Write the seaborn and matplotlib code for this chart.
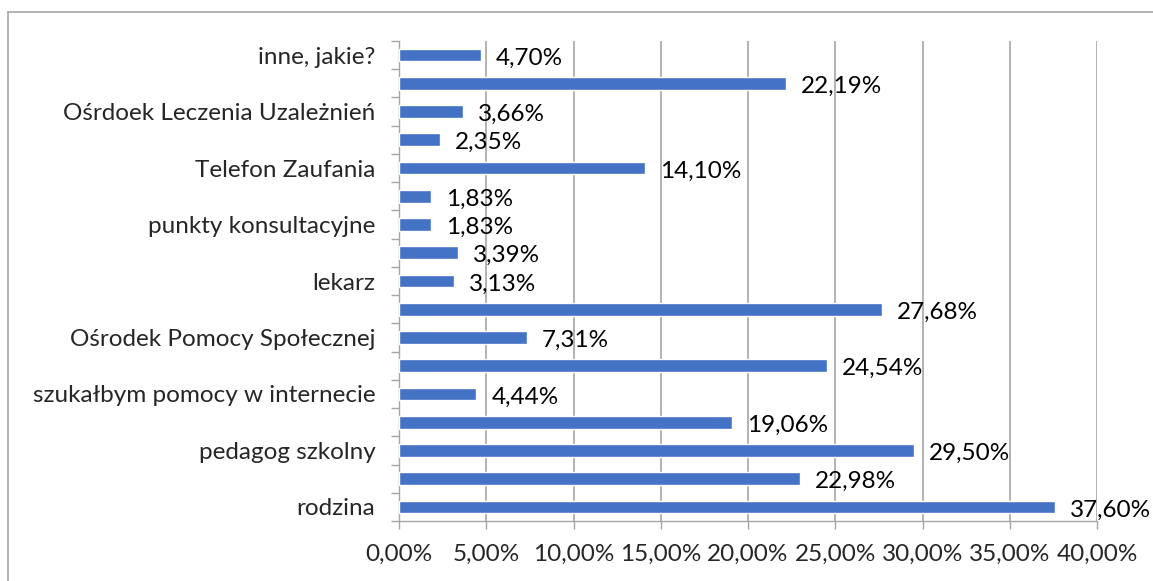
import matplotlib
matplotlib.use("Agg")
import matplotlib.pyplot as plt
import seaborn as sns
import pandas as pd
from matplotlib.lines import Line2D

# Categories from top to bottom (hidden labels shown as blank, as in the original)
tick_labels = [
    "inne, jakie?", "",
    "Ośrdoek Leczenia Uzależnień", "",
    "Telefon Zaufania", "",
    "punkty konsultacyjne", "",
    "lekarz", "",
    "Ośrodek Pomocy Społecznej", "",
    "szukałbym pomocy w internecie", "",
    "pedagog szkolny", "",
    "rodzina",
]
values = [4.70, 22.19, 3.66, 2.35, 14.10, 1.83, 1.83, 3.39, 3.13, 27.68,
          7.31, 24.54, 4.44, 19.06, 29.50, 22.98, 37.60]
x_ticks = [0, 5, 10, 15, 20, 25, 30, 35, 40]

keys = [f"c{i}" for i in range(len(values))]
df = pd.DataFrame({"key": keys, "value": values})

sns.set_theme(style="white")
plt.rcParams["font.family"] = ["Lato", "DejaVu Sans"]
FS = 17.5

fig = plt.figure(figsize=(11.53, 5.81), dpi=100)
ax = fig.add_axes([399/1153, 1 - 521/581, (1097-399)/1153, (521-41)/581])

sns.barplot(data=df, x="value", y="key", order=keys, color="#4472C4",
            width=0.45, saturation=1, ax=ax, zorder=3)

ax.set_xlim(0, 40)
ax.set_ylim(len(values) - 0.5, -0.5)
ax.set_xticks(x_ticks)
ax.set_xticklabels([f"{t:.2f}%".replace(".", ",") for t in x_ticks], fontsize=FS)
ax.set_yticks(range(len(values)))
ax.set_yticklabels(tick_labels, fontsize=FS)
ax.set_xlabel("")
ax.set_ylabel("")

ax.grid(axis="x", color="#A6A6A6", linewidth=1.2, zorder=0)
ax.set_axisbelow(True)
for s in ["top", "right"]:
    ax.spines[s].set_visible(False)
ax.spines["left"].set_color("#A6A6A6")
ax.spines["bottom"].set_color("#A6A6A6")
ax.spines["left"].set_linewidth(1.0)
ax.spines["bottom"].set_linewidth(1.0)

# minor ticks on the y axis at category boundaries
ax.set_yticks([i - 0.5 for i in range(len(values) + 1)], minor=True)
ax.tick_params(axis="y", which="major", length=0, pad=17)
ax.tick_params(axis="y", which="minor", length=6, color="#A6A6A6", width=1, left=True)
ax.tick_params(axis="x", length=6, color="#A6A6A6", width=1, bottom=True, pad=10.5)

for i, v in enumerate(values):
    ax.annotate(f"{v:.2f}%".replace(".", ","), xy=(v, i), xytext=(15, -3),
                textcoords="offset pixels",
                va="center", ha="left", fontsize=FS, color="#000000", zorder=4)

# outer frame (top and left visible)
fig.add_artist(Line2D([8/1153, 1], [1 - 12/581, 1 - 12/581], color="#A6A6A6", lw=1.2,
                      transform=fig.transFigure))
fig.add_artist(Line2D([8/1153, 8/1153], [0, 1 - 12/581], color="#A6A6A6", lw=1.2,
                      transform=fig.transFigure))

fig.savefig("out.png", dpi=100)
